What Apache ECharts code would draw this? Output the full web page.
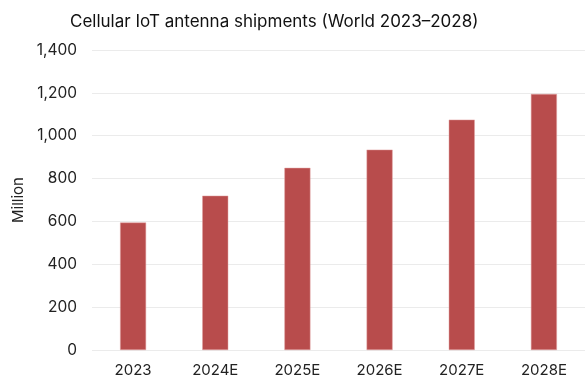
<!DOCTYPE html>
<html><head><meta charset="utf-8">
<script src="https://cdn.jsdelivr.net/npm/echarts@6/dist/echarts.min.js"></script>
<style>html,body{margin:0;padding:0;background:#fff}#c{width:585px;height:378px}</style>
</head><body><div id="c"></div>
<script>
const categories = ['2023','2024E','2025E','2026E','2027E','2028E'];
const shipments = [595, 720, 850, 935, 1075, 1195];
const titleText = 'Cellular IoT antenna shipments (World 2023–2028)';
const yAxisName = 'Million';

const chart = echarts.init(document.getElementById('c'), null, {renderer:'canvas'});
chart.setOption({
  animation:false,
  textStyle:{fontFamily:'Inter'},
  title:{text:titleText,left:65,top:8,textStyle:{fontFamily:'Inter',fontSize:17,fontWeight:'normal',color:'#111'}},
  grid:{left:92,right:-8,top:50,bottom:28},
  xAxis:{type:'category',data:categories,
    axisLine:{show:false},axisTick:{show:false},
    axisLabel:{color:'#222',fontSize:15,margin:13,fontFamily:'Inter'}},
  yAxis:{type:'value',min:0,max:1400,interval:200,
    name:yAxisName,nameLocation:'middle',nameGap:62,nameRotate:90,
    nameTextStyle:{color:'#222',fontSize:15,fontFamily:'Inter'},
    axisLabel:{color:'#222',fontSize:15.5,margin:15,fontFamily:'Inter',
      formatter:v=>v.toLocaleString('en-US')},
    splitLine:{lineStyle:{color:'#ebebeb',width:1}}},
  series:[{type:'bar',data:shipments,barWidth:26,
    itemStyle:{color:'#b84c4c',borderColor:'#e0a0a0',borderWidth:0.5}}]
});
</script></body></html>
